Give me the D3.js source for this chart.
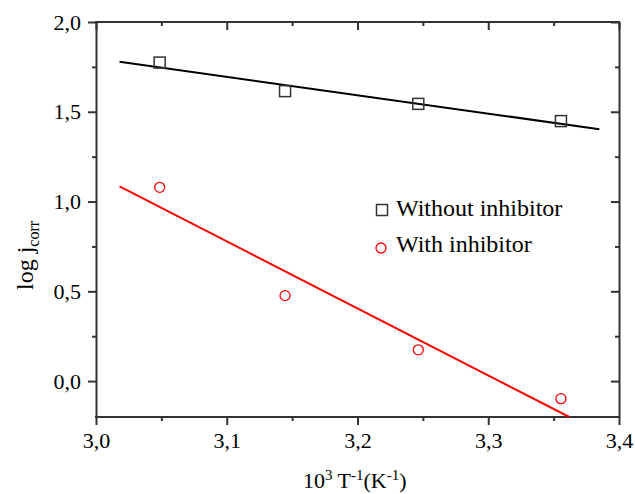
<!DOCTYPE html>
<html>
<head>
<meta charset="utf-8">
<script src="https://cdn.jsdelivr.net/npm/d3@7"></script>
<style>
  body { margin: 0; background: #fff; }
</style>
</head>
<body>
<svg id="chart" width="635" height="494"></svg>
<script>
// measured data
const invT = [3.0487, 3.1446, 3.2465, 3.3556];
const withoutInhibitor = [1.774, 1.615, 1.544, 1.448];
const withInhibitor = [1.079, 0.476, 0.174, -0.098];

// linear fit lines (end points)
const fitWithout = [[3.018, 1.778], [3.385, 1.403]];
const fitWith = [[3.018, 1.085], [3.362, -0.2]];

const xTicks = [3.0, 3.1, 3.2, 3.3, 3.4];
const yTicks = [0.0, 0.5, 1.0, 1.5, 2.0];

const legendItems = ["Without inhibitor", "With inhibitor"];

const FONT = "'Liberation Serif', 'Times New Roman', serif";

const margin = { left: 96, right: 16, top: 22, bottom: 77 };
const width = 635, height = 494;

const x = d3.scaleLinear()
    .domain([3.0, 3.4])
    .range([margin.left, width - margin.right]);
const y = d3.scaleLinear()
    .domain([-0.2, 2.0])
    .range([height - margin.bottom, margin.top]);

const svg = d3.select("#chart");
const fmt = d => d3.format(".1f")(d).replace(".", ",");

const minorX = d3.range(3.05, 3.4, 0.1);
const minorY = d3.range(-0.25, 2.0, 0.5).filter(v => v > -0.2);

// plot area clip
svg.append("clipPath").attr("id", "clip")
    .append("rect")
    .attr("x", x(3.0)).attr("y", y(2.0))
    .attr("width", x(3.4) - x(3.0)).attr("height", y(-0.2) - y(2.0));

const axisColor = "#333";

function styleAxis(g) {
    g.attr("font-family", null);
    g.select(".domain").attr("stroke", axisColor).attr("stroke-width", 2);
    g.selectAll(".tick line").attr("stroke", axisColor).attr("stroke-width", 2);
    g.selectAll("text")
        .style("font-family", FONT)
        .style("font-size", "22px")
        .attr("fill", "#000");
}

// bottom axis
svg.append("g")
    .attr("transform", `translate(0,${y(-0.2)})`)
    .call(d3.axisBottom(x).tickValues(xTicks).tickFormat(fmt).tickSize(8).tickSizeOuter(0).tickPadding(7))
    .call(styleAxis)
    .call(g => g.select(".domain").attr("d", `M${x(3.0) - 1},0H${x(3.4) + 1}`));
svg.append("g")
    .attr("transform", `translate(0,${y(-0.2)})`)
    .call(d3.axisBottom(x).tickValues(minorX).tickFormat("").tickSize(4).tickSizeOuter(0))
    .call(styleAxis)
    .call(g => g.select(".domain").remove());

// top axis (ticks inward)
svg.append("g")
    .attr("transform", `translate(0,${y(2.0)})`)
    .call(d3.axisBottom(x).tickValues(xTicks).tickFormat("").tickSize(8).tickSizeOuter(0))
    .call(styleAxis)
    .call(g => g.select(".domain").attr("d", `M${x(3.0) - 1},0H${x(3.4) + 1}`));
svg.append("g")
    .attr("transform", `translate(0,${y(2.0)})`)
    .call(d3.axisBottom(x).tickValues(minorX).tickFormat("").tickSize(4).tickSizeOuter(0))
    .call(styleAxis)
    .call(g => g.select(".domain").remove());

// left axis
svg.append("g")
    .attr("transform", `translate(${x(3.0)},0)`)
    .call(d3.axisLeft(y).tickValues(yTicks).tickFormat(fmt).tickSize(8).tickSizeOuter(0).tickPadding(7))
    .call(styleAxis);
svg.append("g")
    .attr("transform", `translate(${x(3.0)},0)`)
    .call(d3.axisLeft(y).tickValues(minorY).tickFormat("").tickSize(4).tickSizeOuter(0))
    .call(styleAxis)
    .call(g => g.select(".domain").remove());

// right axis (ticks inward)
svg.append("g")
    .attr("transform", `translate(${x(3.4)},0)`)
    .call(d3.axisLeft(y).tickValues(yTicks).tickFormat("").tickSize(8).tickSizeOuter(0))
    .call(styleAxis);
svg.append("g")
    .attr("transform", `translate(${x(3.4)},0)`)
    .call(d3.axisLeft(y).tickValues(minorY).tickFormat("").tickSize(4).tickSizeOuter(0))
    .call(styleAxis)
    .call(g => g.select(".domain").remove());

// fit lines
const line = d3.line().x(d => x(d[0])).y(d => y(d[1]));
const plot = svg.append("g").attr("clip-path", "url(#clip)");
plot.append("path").datum(fitWithout)
    .attr("d", line).attr("fill", "none").attr("stroke", "#000").attr("stroke-width", 2);
plot.append("path").datum(fitWith)
    .attr("d", line).attr("fill", "none").attr("stroke", "#ff0000").attr("stroke-width", 2);

// markers
const sq = 11;
svg.append("g").selectAll("rect")
    .data(invT.map((t, i) => [t, withoutInhibitor[i]]))
    .enter().append("rect")
    .attr("x", d => x(d[0]) - sq / 2).attr("y", d => y(d[1]) - sq / 2)
    .attr("width", sq).attr("height", sq)
    .attr("fill", "none").attr("stroke", "#333").attr("stroke-width", 1.5);
svg.append("g").selectAll("circle")
    .data(invT.map((t, i) => [t, withInhibitor[i]]))
    .enter().append("circle")
    .attr("cx", d => x(d[0])).attr("cy", d => y(d[1])).attr("r", 5)
    .attr("fill", "none").attr("stroke", "#ff0000").attr("stroke-width", 1.3);

// legend
const legend = svg.append("g").attr("transform", "translate(382,210)");
legend.append("rect")
    .attr("x", -5.5).attr("y", -5.5).attr("width", sq).attr("height", sq)
    .attr("fill", "none").attr("stroke", "#333").attr("stroke-width", 1.5);
legend.append("circle")
    .attr("cx", -1).attr("cy", 38).attr("r", 5)
    .attr("fill", "none").attr("stroke", "#ff0000").attr("stroke-width", 1.3);
legend.selectAll("text.item")
    .data(legendItems)
    .enter().append("text")
    .attr("class", "item")
    .attr("x", 14).attr("y", (d, i) => 6 + i * 36)
    .style("font-family", FONT)
    .style("font-size", "24px")
    .text(d => d);

// axis titles
const xt = svg.append("text")
    .attr("x", 303).attr("y", 488)
    .style("font-family", FONT)
    .style("font-size", "22px");
xt.append("tspan").text("10");
xt.append("tspan").attr("dy", -8).style("font-size", "15px").text("3");
xt.append("tspan").attr("dy", 8).text(" T");
xt.append("tspan").attr("dy", -8).style("font-size", "15px").text("-1");
xt.append("tspan").attr("dy", 8).text("(K");
xt.append("tspan").attr("dy", -8).style("font-size", "15px").text("-1");
xt.append("tspan").attr("dy", 8).text(")");

const yt = svg.append("text")
    .attr("transform", "translate(33,290) rotate(-90)")
    .style("font-family", FONT)
    .style("font-size", "24px");
yt.append("tspan").text("log j");
yt.append("tspan").attr("dy", 6).style("font-size", "16px").text("corr");
</script>
</body>
</html>
